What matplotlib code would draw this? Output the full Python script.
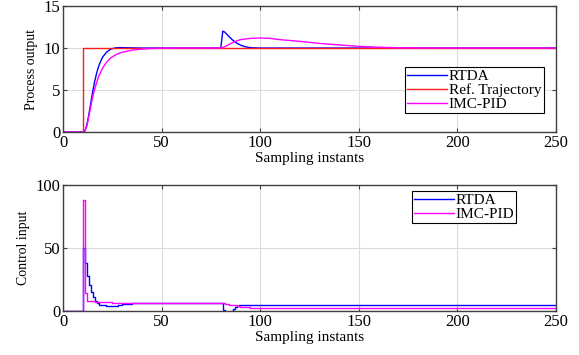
import numpy as np
import matplotlib
matplotlib.use('Agg')
import matplotlib.pyplot as plt

plt.rcParams['font.family'] = ['Liberation Serif', 'DejaVu Serif']
plt.rcParams['mathtext.fontset'] = 'stix'

# reference trajectory (step at k = 10)
k_ref = [0, 10, 250]
ref = [0, 10, 10]

# process output, RTDA
k_y_rtda = [0, 10, 11, 12, 13, 14, 15, 16, 17, 18, 19, 20, 22, 24, 26, 28, 30, 35, 40, 50,
            80, 81, 82, 84, 86, 88, 90, 92, 94, 96, 100, 250]
y_rtda = [0, 0, 0.1, 0.8, 2.0, 3.4, 4.8, 6.0, 7.0, 7.8, 8.4, 8.9, 9.5, 9.85, 10.0, 10.05, 10.05, 10.02, 10.0, 10.0,
          10.0, 12.0, 11.9, 11.4, 10.95, 10.6, 10.35, 10.18, 10.08, 10.03, 10.0, 10.0]

# process output, IMC-PID
k_y_imc = [0, 10, 11, 12, 13, 14, 15, 16, 17, 18, 19, 20, 22, 24, 26, 28, 30, 35, 40, 45, 50, 60,
           80, 82, 84, 86, 88, 90, 95, 100, 105, 110, 120, 130, 140, 150, 160, 170, 180, 200, 250]
y_imc = [0, 0, 0.1, 0.7, 1.8, 3.0, 4.2, 5.1, 5.9, 6.6, 7.1, 7.6, 8.3, 8.8, 9.1, 9.35, 9.5, 9.75, 9.88, 9.95, 9.98, 10.0,
         10.0, 10.15, 10.4, 10.65, 10.85, 11.0, 11.15, 11.2, 11.15, 11.0, 10.8, 10.55, 10.37, 10.2, 10.1, 10.04, 10.01, 10.0, 10.0]

# control input, RTDA
k_u_rtda = [0, 10, 11, 12, 13, 14, 15, 16, 17, 18, 20, 22, 24, 26, 28, 30, 32, 35, 40,
            80, 81, 82, 83, 84, 85, 86, 87, 88, 89, 90, 92, 95, 100, 250]
u_rtda = [0, 50, 38, 28, 21, 15, 11, 8, 6, 5, 4.5, 4.2, 4.1, 4.3, 4.7, 5.2, 5.6, 6.0, 6.1,
          6.1, 0.5, -0.6, -0.8, -0.5, 0.3, 1.5, 2.8, 3.8, 4.5, 4.9, 5.1, 5.0, 4.8, 4.8]

# control input, IMC-PID
k_u_imc = [0, 10, 11, 12, 14, 16, 18, 20, 25, 30, 40,
           80, 82, 84, 86, 88, 90, 92, 95, 100, 120, 250]
u_imc = [0, 88, 14, 8, 7.8, 7.5, 7.2, 7.0, 6.6, 6.3, 6.1,
         6.1, 5.6, 5.0, 4.4, 3.8, 3.3, 2.9, 2.5, 2.3, 2.2, 2.2]

c_blue = '#0000ff'
c_red = '#ff1a1a'
c_mag = '#ff00ff'

fig = plt.figure(figsize=(5.79, 3.55), dpi=100)
ax1 = fig.add_axes([0.109, 0.628, 0.851, 0.355])
ax2 = fig.add_axes([0.109, 0.124, 0.851, 0.355])

ax1.plot(k_y_rtda, y_rtda, color=c_blue, lw=1.0, label='RTDA')
ax1.plot(k_ref, ref, color=c_red, lw=1.0, drawstyle='steps-post', label='Ref. Trajectory')
ax1.plot(k_y_imc, y_imc, color=c_mag, lw=1.0, label='IMC-PID')
ax1.set_ylim(0, 15)
ax1.set_yticks([0, 5, 10, 15])
ax1.set_ylabel('Process output', fontsize=10)

ax2.plot(k_u_rtda, u_rtda, color=c_blue, lw=1.0, drawstyle='steps-post', label='RTDA')
ax2.plot(k_u_imc, u_imc, color=c_mag, lw=1.0, drawstyle='steps-post', label='IMC-PID')
ax2.set_ylim(0, 100)
ax2.set_yticks([0, 50, 100])
ax2.set_ylabel('Control input', fontsize=10)

for ax in (ax1, ax2):
    ax.set_xlim(0, 250)
    ax.set_xticks([0, 50, 100, 150, 200, 250])
    ax.set_xlabel('Sampling instants', fontsize=11, labelpad=1)
    ax.grid(True, color='#dcdcdc', lw=0.8)
    ax.set_axisbelow(True)
    ax.tick_params(direction='in', top=True, right=True, labelsize=12, length=3,
                   color='#404040', pad=2)
    for s in ax.spines.values():
        s.set_color('#404040')
        s.set_linewidth(1.0)

leg1 = ax1.legend(loc='lower right', bbox_to_anchor=(0.975, 0.15), fontsize=11,
                  handlelength=2.6, handletextpad=0.1, borderpad=0.15, labelspacing=0.0,
                  fancybox=False, framealpha=1, borderaxespad=0)
leg1.get_frame().set_edgecolor('black')
leg1.get_frame().set_linewidth(0.8)

leg2 = ax2.legend(loc='upper right', bbox_to_anchor=(0.92, 0.95), fontsize=11,
                  handlelength=2.6, handletextpad=0.1, borderpad=0.15, labelspacing=0.0,
                  fancybox=False, framealpha=1, borderaxespad=0)
leg2.get_frame().set_edgecolor('black')
leg2.get_frame().set_linewidth(0.8)

plt.savefig('out.png', dpi=100)
